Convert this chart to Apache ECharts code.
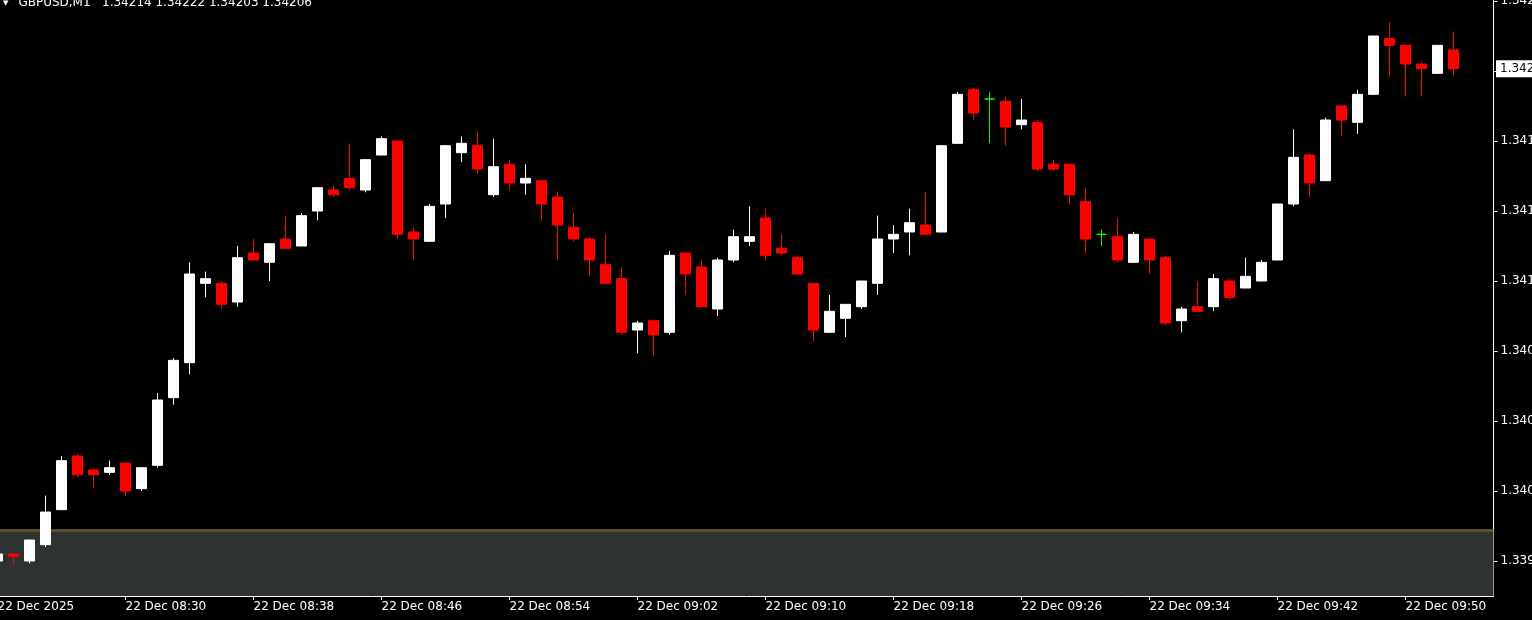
<!DOCTYPE html>
<html>
<head>
<meta charset="utf-8">
<style>
  html, body { margin: 0; padding: 0; background: #000; }
  #chart { width: 1532px; height: 620px; }
</style>
<script src="https://cdn.jsdelivr.net/npm/echarts@6/dist/echarts.min.js"></script>
</head>
<body>
<div id="chart"></div>
<script>
const symbol = 'GBPUSD';
const timeframe = 'M1';
const dateLabel = '22 Dec 2025';
const dayPrefix = '22 Dec ';

const categories = [
  '08:22','08:23','08:24','08:25','08:26','08:27','08:28','08:29','08:30','08:31',
  '08:32','08:33','08:34','08:35','08:36','08:37','08:38','08:39','08:40','08:41',
  '08:42','08:43','08:44','08:45','08:46','08:47','08:48','08:49','08:50','08:51',
  '08:52','08:53','08:54','08:55','08:56','08:57','08:58','08:59','09:00','09:01',
  '09:02','09:03','09:04','09:05','09:06','09:07','09:08','09:09','09:10','09:11',
  '09:12','09:13','09:14','09:15','09:16','09:17','09:18','09:19','09:20','09:21',
  '09:22','09:23','09:24','09:25','09:26','09:27','09:28','09:29','09:30','09:31',
  '09:32','09:33','09:34','09:35','09:36','09:37','09:38','09:39','09:40','09:41',
  '09:42','09:43','09:44','09:45','09:46','09:47','09:48','09:49','09:50','09:51',
  '09:52','09:53','09:54','09:55'
];

const opens = [
  1.33995,1.33998,1.33995,1.34002,1.34017,1.34040,1.34034,1.34033,1.34037,1.34026,
  1.34036,1.34065,1.34080,1.34114,1.34114,1.34106,1.34127,1.34123,1.34133,1.34130,
  1.34145,1.34154,1.34159,1.34154,1.34169,1.34175,1.34136,1.34132,1.34148,1.34170,
  1.34173,1.34152,1.34165,1.34157,1.34158,1.34151,1.34138,1.34133,1.34122,1.34116,
  1.34094,1.34098,1.34093,1.34127,1.34121,1.34103,1.34124,1.34132,1.34142,1.34129,
  1.34125,1.34114,1.34093,1.34099,1.34104,1.34114,1.34133,1.34136,1.34139,1.34136,
  1.34174,1.34197,1.34193,1.34192,1.34182,1.34183,1.34165,1.34165,1.34149,1.34135,
  1.34134,1.34123,1.34133,1.34125,1.34098,1.34104,1.34104,1.34115,1.34112,1.34115,
  1.34124,1.34148,1.34169,1.34158,1.34190,1.34183,1.34195,1.34219,1.34216,1.34208,
  1.34204,1.34214
];
const closes = [
  1.33998,1.33997,1.34004,1.34016,1.34038,1.34032,1.34032,1.34035,1.34025,1.34035,
  1.34064,1.34081,1.34118,1.34116,1.34105,1.34125,1.34124,1.34131,1.34129,1.34143,
  1.34155,1.34152,1.34155,1.34167,1.34176,1.34135,1.34133,1.34147,1.34173,1.34174,
  1.34163,1.34164,1.34157,1.34159,1.34148,1.34139,1.34133,1.34124,1.34114,1.34093,
  1.34097,1.34092,1.34126,1.34118,1.34104,1.34124,1.34134,1.34134,1.34126,1.34127,
  1.34118,1.34094,1.34102,1.34105,1.34115,1.34133,1.34135,1.34140,1.34135,1.34173,
  1.34195,1.34187,1.34193,1.34181,1.34184,1.34163,1.34163,1.34152,1.34133,1.34135,
  1.34124,1.34135,1.34124,1.34097,1.34103,1.34102,1.34116,1.34108,1.34117,1.34123,
  1.34148,1.34168,1.34157,1.34184,1.34184,1.34195,1.34220,1.34216,1.34208,1.34206,
  1.34216,1.34206
];
const lows = [
  1.33994,1.33993,1.33994,1.34001,1.34017,1.34031,1.34026,1.34032,1.34023,1.34025,
  1.34035,1.34062,1.34075,1.34108,1.34103,1.34104,1.34124,1.34115,1.34129,1.34130,
  1.34141,1.34151,1.34154,1.34153,1.34169,1.34133,1.34124,1.34132,1.34142,1.34166,
  1.34161,1.34151,1.34154,1.34152,1.34141,1.34124,1.34132,1.34117,1.34114,1.34092,
  1.34084,1.34083,1.34092,1.34109,1.34104,1.34100,1.34123,1.34130,1.34124,1.34126,
  1.34118,1.34089,1.34093,1.34091,1.34103,1.34109,1.34127,1.34126,1.34135,1.34136,
  1.34174,1.34184,1.34174,1.34173,1.34180,1.34162,1.34162,1.34148,1.34127,1.34130,
  1.34123,1.34123,1.34118,1.34096,1.34093,1.34102,1.34102,1.34107,1.34112,1.34115,
  1.34124,1.34147,1.34151,1.34158,1.34177,1.34178,1.34195,1.34203,1.34194,1.34194,
  1.34204,1.34203
];
const highs = [
  1.33998,1.33998,1.34004,1.34023,1.34040,1.34041,1.34035,1.34038,1.34037,1.34035,
  1.34067,1.34082,1.34123,1.34119,1.34115,1.34130,1.34133,1.34131,1.34143,1.34144,
  1.34155,1.34156,1.34174,1.34167,1.34177,1.34175,1.34138,1.34148,1.34173,1.34177,
  1.34179,1.34176,1.34167,1.34165,1.34158,1.34153,1.34144,1.34134,1.34135,1.34121,
  1.34098,1.34098,1.34128,1.34127,1.34124,1.34125,1.34137,1.34147,1.34146,1.34135,
  1.34126,1.34114,1.34109,1.34105,1.34115,1.34143,1.34139,1.34146,1.34153,1.34173,
  1.34196,1.34198,1.34196,1.34194,1.34193,1.34184,1.34167,1.34165,1.34155,1.34137,
  1.34142,1.34136,1.34133,1.34126,1.34104,1.34115,1.34118,1.34116,1.34125,1.34124,
  1.34148,1.34180,1.34170,1.34185,1.34190,1.34197,1.34220,1.34226,1.34216,1.34209,
  1.34216,1.34222
];

const priceTicks = [1.33995,1.34025,1.34055,1.34085,1.34115,1.34145,1.34175,1.34205,1.34235];
const yMin = 1.33980;
const yMax = 1.3423543;
const bandTop = 1.340087;
const bandLine = 1.340074;

const last = opens.length - 1;
const candleData = opens.map((o, i) => [o, closes[i], lows[i], highs[i]]);
const titleText = symbol + ',' + timeframe + '   ' +
  [opens[last], highs[last], lows[last], closes[last]].map(v => v.toFixed(5)).join(' ');

const FONT = 'DejaVu Sans';
const labelEvery = (i) => i % 8 === 0;

const chart = echarts.init(document.getElementById('chart'), null, { renderer: 'canvas' });
chart.setOption({
  backgroundColor: '#000000',
  animation: false,
  title: {
    left: 3, top: -6, padding: 0,
    text: '{tri|▼}  {main|' + titleText + '}',
    textStyle: {
      fontWeight: 'normal',
      rich: {
        tri: { fontSize: 7, color: '#ffffff', fontFamily: FONT, fontWeight: 'normal' },
        main: { fontSize: 12, color: '#ffffff', fontFamily: FONT, fontWeight: 'normal' }
      }
    }
  },
  grid: { left: -10.5, right: 38.5, top: 0, bottom: 24, containLabel: false, outerBoundsMode: 'none' },
  xAxis: {
    type: 'category',
    data: categories,
    boundaryGap: true,
    axisLine: { show: true, lineStyle: { color: '#ffffff', width: 1 } },
    axisTick: { show: true, alignWithLabel: true, interval: (i) => labelEvery(i), length: 4, lineStyle: { color: '#ffffff' } },
    axisLabel: {
      interval: (i) => labelEvery(i),
      formatter: (v, i) => (i === 0 ? dateLabel : dayPrefix + v),
      align: 'left', color: '#ffffff', fontSize: 12, fontFamily: FONT, margin: 5
    },
    splitLine: { show: false }
  },
  yAxis: [{
    type: 'value',
    position: 'right',
    offset: 0,
    min: yMin, max: yMax,
    axisLine: { show: true, lineStyle: { color: '#ffffff', width: 1 } },
    axisTick: { show: true, length: 4, customValues: priceTicks, lineStyle: { color: '#ffffff' } },
    axisLabel: {
      customValues: priceTicks,
      formatter: (v) => v.toFixed(5),
      color: '#ffffff', fontSize: 12, fontFamily: FONT, margin: 7
    },
    splitLine: { show: false }
  }, {
    type: 'value',
    position: 'right',
    offset: 0,
    z: 10,
    min: yMin, max: yMax,
    axisLine: { show: false },
    axisTick: { show: false },
    axisLabel: {
      customValues: [closes[last]],
      formatter: (v) => v.toFixed(5),
      color: '#000000', backgroundColor: '#ffffff', borderRadius: 0,
      padding: [3, 4, 2, 4],
      fontSize: 12, fontFamily: FONT, margin: 2.5
    },
    splitLine: { show: false }
  }],
  series: [{
    type: 'candlestick',
    yAxisIndex: 0,
    data: candleData,
    barWidth: 10,
    itemStyle: {
      color: '#ffffff', borderColor: '#ffffff',
      color0: '#ff0000', borderColor0: '#ff0000',
      borderColorDoji: '#00ff00',
      borderWidth: 1
    },
    markArea: {
      silent: true,
      data: [
        [{ yAxis: bandTop, itemStyle: { color: '#5d4c2a' } }, { yAxis: bandLine }],
        [{ yAxis: bandLine, itemStyle: { color: '#2e3331' } }, { yAxis: yMin }]
      ]
    }
  }]
});
</script>
</body>
</html>
